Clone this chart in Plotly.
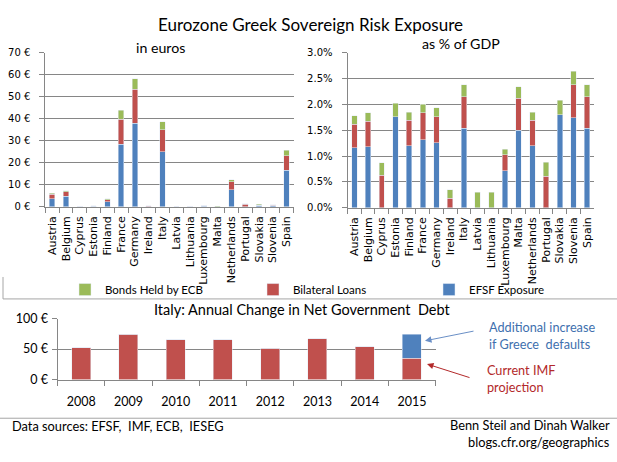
import plotly.graph_objects as go

W, H = 617, 462

countries = ['Austria', 'Belgium', 'Cyprus', 'Estonia', 'Finland', 'France', 'Germany',
             'Ireland', 'Italy', 'Latvia', 'Lithuania', 'Luxembourg', 'Malta',
             'Netherlands', 'Portugal', 'Slovakia', 'Slovenia', 'Spain']

# exposure in euros (bn)
efsf_eur = [3.6, 4.7, 0.0, 0.2, 2.3, 28.4, 38.0, 0.0, 25.0, 0.0, 0.0, 0.3, 0.1,
            7.7, 0.0, 0.8, 0.5, 16.7]
bilateral_eur = [2.0, 2.1, 0.1, 0.0, 0.9, 11.4, 15.4, 0.3, 9.9, 0.0, 0.0, 0.1, 0.04,
                 3.7, 1.1, 0.0, 0.2, 6.4]
ecb_eur = [0.5, 0.5, 0.04, 0.2, 0.4, 3.9, 4.8, 0.3, 3.6, 0.06, 0.09, 0.05, 0.02,
           0.9, 0.3, 0.4, 0.2, 2.6]

# exposure as % of GDP
efsf_pct = [1.16, 1.18, 0.0, 1.76, 1.20, 1.31, 1.26, 0.0, 1.54, 0.0, 0.0, 0.72, 1.50,
            1.20, 0.0, 1.80, 1.74, 1.54]
bilateral_pct = [0.45, 0.49, 0.63, 0.0, 0.49, 0.53, 0.50, 0.18, 0.61, 0.0, 0.0, 0.30, 0.62,
                 0.49, 0.61, 0.0, 0.64, 0.61]
ecb_pct = [0.17, 0.17, 0.24, 0.26, 0.16, 0.16, 0.17, 0.17, 0.23, 0.30, 0.30, 0.11, 0.22,
           0.16, 0.27, 0.28, 0.26, 0.23]

# Italy: annual change in net government debt (bn euros)
years = ['2008', '2009', '2010', '2011', '2012', '2013', '2014', '2015']
imf_projection = [52.5, 74.5, 65.5, 65, 51, 66.5, 54, 35.2]
greece_default = [0, 0, 0, 0, 0, 0, 0, 39.4]

BLUE, RED, GREEN = '#4F81BD', '#C0504D', '#9BBB59'
GRID = '#868686'
VERD = 'Verdana, DejaVu Sans, sans-serif'
TICKFONT = dict(family=VERD, size=10, color='#000000')
CATFONT = dict(family=VERD, size=11, color='#000000')
CAL = 'Lato'


def px(x):
    return x / W


def py(y):
    return 1 - y / H


fig = go.Figure()

for name, col, e, p, lg in [('EFSF Exposure', BLUE, efsf_eur, efsf_pct, 'legend3'),
                            ('Bilateral Loans', RED, bilateral_eur, bilateral_pct, 'legend2'),
                            ('Bonds Held by ECB', GREEN, ecb_eur, ecb_pct, 'legend')]:
    fig.add_trace(go.Bar(x=countries, y=e, name=name, marker_color=col,
                         xaxis='x', yaxis='y', legend=lg))
    fig.add_trace(go.Bar(x=countries, y=p, name=name, marker_color=col,
                         xaxis='x2', yaxis='y2', showlegend=False))

fig.add_trace(go.Bar(x=years, y=imf_projection, marker_color=RED, xaxis='x3', yaxis='y3',
                     showlegend=False))
fig.add_trace(go.Bar(x=years, y=greece_default, marker_color=BLUE, xaxis='x3', yaxis='y3',
                     showlegend=False))

cat_axis = dict(type='category', showline=True, linecolor=GRID, ticks='outside',
                tickson='boundaries', ticklen=5, tickcolor=GRID, tickangle=-90,
                tickmode='array', tickvals=countries, ticktext=countries,
                tickfont=CATFONT, ticklabelstandoff=4, showgrid=False, fixedrange=True)
val_axis = dict(showline=True, linecolor=GRID, ticks='outside', ticklen=5, tickcolor=GRID,
                showgrid=True, gridcolor=GRID, gridwidth=1, zeroline=False,
                tickfont=TICKFONT, ticklabelstandoff=7)
bottom_font = dict(family=CAL, size=12.5, color='#000000')
legend_font = dict(family=CAL, size=11.5, color='#000000')

fig.update_layout(
    width=W, height=H,
    margin=dict(l=0, r=0, t=0, b=0),
    paper_bgcolor='white', plot_bgcolor='white',
    barmode='stack', bargap=0.6,
    font=dict(family=CAL, size=12, color='#000000'),
    xaxis=dict(cat_axis, domain=[px(45.3), px(293.5)], anchor='y'),
    yaxis=dict(val_axis, domain=[py(205.5), py(46)], anchor='x', range=[0, 70], dtick=10,
               ticksuffix=' €'),
    xaxis2=dict(cat_axis, domain=[px(347.5), px(594)], anchor='y2'),
    yaxis2=dict(val_axis, domain=[py(206.5), py(46)], anchor='x2', range=[0, 3], dtick=0.5,
                tickformat='.1f', ticksuffix='%'),
    xaxis3=dict(cat_axis, domain=[px(57.5), px(435.5)], anchor='y3', tickangle=0,
                tickvals=years, ticktext=years,
                ticklabelstandoff=10, tickfont=bottom_font),
    yaxis3=dict(val_axis, domain=[py(384), py(321)], anchor='x3', range=[0, 100], dtick=50,
                ticksuffix=' €', ticklabelstandoff=1, tickfont=bottom_font),
    legend=dict(orientation='h', x=px(65), y=py(291), xanchor='left', yanchor='middle',
                font=legend_font, bgcolor='rgba(0,0,0,0)'),
    legend2=dict(orientation='h', x=px(253), y=py(291), xanchor='left', yanchor='middle',
                 font=legend_font, bgcolor='rgba(0,0,0,0)'),
    legend3=dict(orientation='h', x=px(429), y=py(291), xanchor='left', yanchor='middle',
                 font=legend_font, bgcolor='rgba(0,0,0,0)'),
)

texts = [
    ('Eurozone Greek Sovereign Risk Exposure', 310, 17, 17, 'center', '#000000'),
    ('in euros', 160, 40.5, 14.2, 'center', '#000000'),
    ('as % of GDP', 461, 36.5, 14.2, 'center', '#000000'),
    ('Italy: Annual Change in Net Government  Debt', 302, 312, 14.5, 'center', '#000000'),
    ('Data sources: EFSF,  IMF, ECB,  IESEG', 10, 432, 12.8, 'left', '#000000'),
    ('Benn Steil and Dinah Walker', 612, 431, 12.8, 'right', '#000000'),
    ('blogs.cfr.org/geographics', 612, 449, 12.8, 'right', '#000000'),
    ('Additional increase<br>if Greece  defaults', 487, 338.5, 12.7, 'left', '#3E6FAE'),
    ('Current IMF<br>projection', 485, 382.5, 12.7, 'left', '#B3292A'),
]
for t, x, y, s, a, c in texts:
    fig.add_annotation(text=t, x=px(x), y=py(y), xref='paper', yref='paper',
                       xanchor=a, yanchor='middle', align=a, showarrow=False,
                       font=dict(family=CAL, size=s, color=c))

# arrows pointing at the 2015 bar
for hx, hy, tx, ty, c in [(425, 344, 475, 334, '#6A8FC6'), (427, 368, 471, 382, '#B3292A')]:
    fig.add_annotation(text='', x=px(hx), y=py(hy), xref='paper', yref='paper',
                       ax=tx - hx, ay=ty - hy, showarrow=True, arrowhead=2, arrowsize=1.3,
                       arrowwidth=1, arrowcolor=c)

# separator lines
for x0, y0, x1, y1 in [(3, 300.7, 617, 300.7), (3, 278, 3, 300.7), (0, 424, 617, 424)]:
    fig.add_shape(type='line', xref='paper', yref='paper', x0=px(x0), y0=py(y0),
                  x1=px(x1), y1=py(y1), line=dict(color='#A6A6A6', width=1))

fig.write_html("out.html", config={'displayModeBar': False},
               post_script="document.body.style.margin='0';document.body.style.overflow='hidden';")
